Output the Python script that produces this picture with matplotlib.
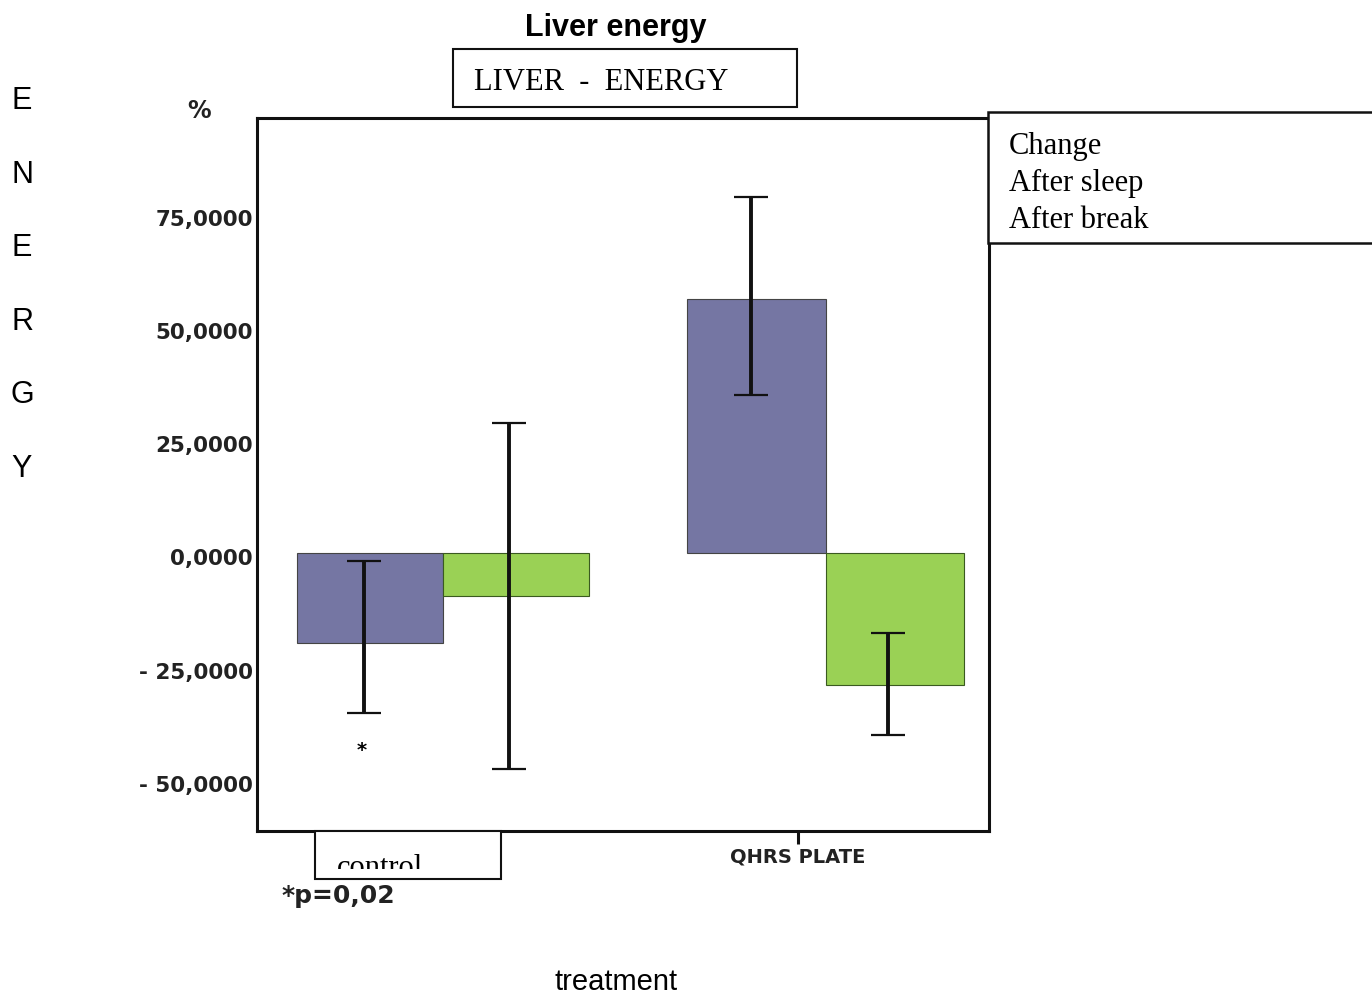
import numpy as np
import matplotlib
matplotlib.use("Agg")
import matplotlib.pyplot as plt
import matplotlib.transforms as mtransforms
from matplotlib.patches import Rectangle

# data
categories = ["control", "QHRS PLATE"]
series = ["After sleep", "After break"]
after_sleep = [-19.8, 56.2]
after_break = [-9.4, -29.0]
# error bar ends (low, high)
sleep_low = [-35.2, 35.0]
sleep_high = [-1.7, 78.7]
break_low = [-47.6, -40.1]
break_high = [28.8, -17.6]
yticks = [75, 50, 25, 0, -25, -50]
ytick_labels = ["75,0000", "50,0000", "25,0000", "0,0000", "- 25,0000", "- 50,0000"]

blue = "#7576a3"
green = "#9ad155"

fig = plt.figure(figsize=(13.72, 9.96), dpi=100)
ax = fig.add_axes([257 / 1372, 1 - 831 / 996, 732 / 1372, 713 / 996])

x = np.arange(len(categories))
w = np.array([0.382, 0.362])
ax.bar(x - w / 2, after_sleep, w, color=blue, edgecolor="#444444", linewidth=0.8, zorder=2)
ax.bar(x + w / 2, after_break, w, color=green, edgecolor="#3a5a20", linewidth=0.8, zorder=2)

def draw_err(xs, vals, lo, hi):
    vals = np.array(vals)
    yerr = [vals - np.array(lo), np.array(hi) - vals]
    ax.errorbar(xs, vals, yerr=yerr, fmt="none", ecolor="#111111",
                elinewidth=2.8, capsize=12, capthick=1.6, zorder=3)

draw_err(x - w / 2 - 0.015, after_sleep, sleep_low, sleep_high)
draw_err(x + w / 2 - 0.02, after_break, break_low, break_high)

ax.set_xlim(-0.486, 1.426)
ax.set_ylim(-61.3, 96.2)

for s in ax.spines.values():
    s.set_linewidth(2.2)
    s.set_color("#111111")

ax.set_yticks(yticks)
ax.set_yticklabels(ytick_labels, fontsize=15.5, fontweight="bold", color="#222222")
ax.tick_params(axis="y", length=0, pad=3)
shift = mtransforms.ScaledTranslation(0, -4 / 100, fig.dpi_scale_trans)
for lab in ax.get_yticklabels():
    lab.set_transform(lab.get_transform() + shift)

ax.set_xticks(x - 0.073)
ax.set_xticklabels(["", categories[1]], fontsize=14, fontweight="bold", color="#222222")
ax.tick_params(axis="x", length=9, width=2.2, pad=3, color="#111111")

# title and header box
fig.text(616 / 1372, 1 - 28 / 996, "Liver energy", ha="center", va="center",
         fontsize=22, fontweight="bold", family="Liberation Sans")
fig.patches.append(Rectangle((453 / 1372, 1 - 107 / 996), 344 / 1372, 58 / 996,
                             transform=fig.transFigure, fill=False, lw=1.5,
                             edgecolor="#111111"))
fig.text(474 / 1372, 1 - 83 / 996, "LIVER  -  ENERGY", ha="left", va="center",
         fontsize=22, family="Liberation Serif")

# legend box
fig.patches.append(Rectangle((988 / 1372, 1 - 243 / 996), 400 / 1372, 131 / 996,
                             transform=fig.transFigure, facecolor="white", lw=1.8,
                             edgecolor="#111111", zorder=5))
for i, name in enumerate(["Change"] + series):
    fig.text(1009 / 1372, 1 - (146 + 37 * i) / 996, name, ha="left", va="center",
             fontsize=22, family="Liberation Serif", zorder=6)

# y axis label written letter by letter
for i, ch in enumerate("ENERGY"):
    fig.text(22 / 1372, 1 - (101 + 73.6 * i) / 996, ch, ha="center", va="center",
             fontsize=22, family="Liberation Sans")

fig.text(199 / 1372, 1 - 111 / 996, "%", ha="center", va="center",
         fontsize=17, fontweight="bold", color="#222222")
fig.text(616 / 1372, 1 - 982 / 996, "treatment", ha="center", va="center",
         fontsize=21, family="Liberation Sans")
fig.text(362 / 1372, 1 - 750 / 996, "*", ha="center", va="center",
         fontsize=14, fontweight="bold")
fig.text(338 / 1372, 1 - 896 / 996, "*p=0,02", ha="center", va="center",
         fontsize=18, fontweight="bold", color="#222222")

# control label in its own box, lower part of the word cut off
ctrl_box = Rectangle((315 / 1372, 1 - 879 / 996), 186 / 1372, 48 / 996,
                     transform=fig.transFigure, facecolor="white", lw=1.5,
                     edgecolor="#111111", zorder=5)
fig.patches.append(ctrl_box)
ctrl_clip = Rectangle((315 / 1372, 1 - 869 / 996), 186 / 1372, 38 / 996,
                      transform=fig.transFigure, visible=False)
fig.patches.append(ctrl_clip)
t = fig.text(380 / 1372, 1 - 876 / 996, categories[0], ha="center", va="baseline",
             fontsize=22, family="Liberation Serif", zorder=6)
t.set_clip_path(ctrl_clip)

fig.savefig("out.png", dpi=100)
